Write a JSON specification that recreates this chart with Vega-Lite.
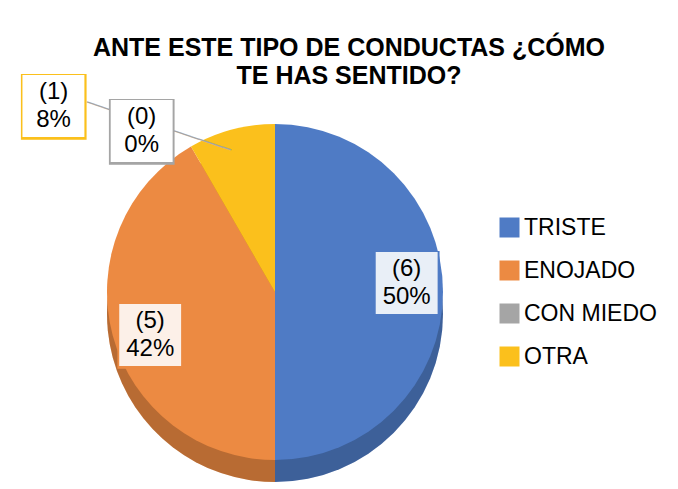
{
  "$schema": "https://vega.github.io/schema/vega-lite/v6.json",
  "autosize": {"type": "none"},
  "width": 550,
  "height": 384,
  "padding": {"left": 0, "top": 100, "right": 128, "bottom": 5},
  "background": "white",
  "config": {"view": {"stroke": null}, "font": "Liberation Sans"},
  "title": {
    "text": ["ANTE ESTE TIPO DE CONDUCTAS ¿CÓMO", "TE HAS SENTIDO?"],
    "anchor": "middle",
    "dx": 74,
    "dy": 47,
    "offset": 14,
    "fontSize": 25,
    "fontWeight": "bold",
    "font": "Liberation Sans",
    "lineHeight": 28,
    "color": "#000000"
  },
  "data": {
    "values": [
      {"categoria": "TRISTE", "n": 6, "orden": 1, "etiqueta": "(6)\n50%"},
      {"categoria": "ENOJADO", "n": 5, "orden": 2, "etiqueta": "(5)\n42%"},
      {"categoria": "CON MIEDO", "n": 0, "orden": 3, "etiqueta": "(0)\n0%"},
      {"categoria": "OTRA", "n": 1, "orden": 4, "etiqueta": "(1)\n8%"}
    ]
  },
  "encoding": {
    "theta": {"field": "n", "type": "quantitative", "stack": true},
    "order": {"field": "orden", "type": "quantitative"}
  },
  "layer": [
    {
      "mark": {"type": "arc", "outerRadius": 168, "yOffset": 22},
      "encoding": {
        "color": {
          "field": "categoria", "type": "nominal",
          "scale": {"domain": ["TRISTE", "ENOJADO", "CON MIEDO", "OTRA"], "range": ["#4F7BC5", "#EC8A42", "#A5A5A5", "#FBC01C"]},
          "legend": {"orient": "none", "legendX": 498, "legendY": 116, "title": null, "symbolType": "square", "symbolSize": 400, "symbolStrokeWidth": 0, "symbolOpacity": 1, "labelFont": "Liberation Sans", "labelFontSize": 23, "labelColor": "#000000", "rowPadding": 19, "labelOffset": 3}
        }
      }
    },
    {
      "mark": {"type": "arc", "outerRadius": 168, "yOffset": 22, "color": "#000000", "opacity": 0.22},
      "encoding": {"detail": {"field": "categoria", "type": "nominal"}}
    },
    {
      "mark": {"type": "arc", "outerRadius": 168},
      "encoding": {"color": {"field": "categoria", "type": "nominal"}}
    },
    {
      "mark": {"type": "text", "radius": 132, "thetaOffset": -0.07, "font": "DejaVu Sans", "fontSize": 86, "dy": -3, "align": "center", "baseline": "middle"},
      "encoding": {
        "color": {"field": "categoria", "type": "nominal"},
        "text": {"condition": {"test": "datum.categoria == 'TRISTE' || datum.categoria == 'ENOJADO'", "value": "■"}, "value": ""}
      }
    },
    {
      "mark": {"type": "text", "radius": 132, "thetaOffset": -0.07, "font": "DejaVu Sans", "fontSize": 81, "dy": -3, "align": "center", "baseline": "middle", "color": "#ffffff", "opacity": 0.88},
      "encoding": {
        "text": {"condition": {"test": "datum.categoria == 'TRISTE' || datum.categoria == 'ENOJADO'", "value": "■"}, "value": ""}
      }
    },
    {
      "mark": {"type": "text", "radius": 132, "thetaOffset": -0.07, "font": "Liberation Sans", "fontSize": 24, "lineHeight": 28, "lineBreak": "\n", "dy": -14, "align": "center", "baseline": "middle", "color": "#000000"},
      "encoding": {
        "text": {"condition": {"test": "datum.categoria == 'TRISTE' || datum.categoria == 'ENOJADO'", "field": "etiqueta"}, "value": ""}
      }
    },
    {
      "mark": {"type": "text", "radius": 202, "thetaOffset": -0.351, "angle": 18.4, "font": "DejaVu Sans", "fontSize": 14, "align": "center", "baseline": "middle", "color": "#A5A5A5"},
      "encoding": {
        "text": {"condition": {"test": "datum.categoria == 'OTRA'", "value": "──────────────────"}, "value": ""}
      }
    },
    {
      "mark": {"type": "text", "radius": 289, "thetaOffset": -0.611, "font": "DejaVu Sans", "fontSize": 86, "dy": -3, "align": "center", "baseline": "middle"},
      "encoding": {
        "color": {"field": "categoria", "type": "nominal"},
        "text": {"condition": {"test": "datum.categoria == 'OTRA'", "value": "■"}, "value": ""}
      }
    },
    {
      "mark": {"type": "text", "radius": 289, "thetaOffset": -0.611, "font": "DejaVu Sans", "fontSize": 81, "dy": -3, "align": "center", "baseline": "middle", "color": "#ffffff"},
      "encoding": {
        "text": {"condition": {"test": "datum.categoria == 'OTRA'", "value": "■"}, "value": ""}
      }
    },
    {
      "mark": {"type": "text", "radius": 289, "thetaOffset": -0.611, "font": "Liberation Sans", "fontSize": 24, "lineHeight": 28, "lineBreak": "\n", "dy": -14, "align": "center", "baseline": "middle", "color": "#000000"},
      "encoding": {
        "text": {"condition": {"test": "datum.categoria == 'OTRA'", "field": "etiqueta"}, "value": ""}
      }
    },
    {
      "mark": {"type": "text", "radius": 209, "thetaOffset": -0.168, "font": "DejaVu Sans", "fontSize": 86, "dy": -3, "align": "center", "baseline": "middle"},
      "encoding": {
        "color": {"field": "categoria", "type": "nominal"},
        "text": {"condition": {"test": "datum.categoria == 'CON MIEDO'", "value": "■"}, "value": ""}
      }
    },
    {
      "mark": {"type": "text", "radius": 209, "thetaOffset": -0.168, "font": "DejaVu Sans", "fontSize": 81, "dy": -3, "align": "center", "baseline": "middle", "color": "#ffffff"},
      "encoding": {
        "text": {"condition": {"test": "datum.categoria == 'CON MIEDO'", "value": "■"}, "value": ""}
      }
    },
    {
      "mark": {"type": "text", "radius": 209, "thetaOffset": -0.168, "font": "Liberation Sans", "fontSize": 24, "lineHeight": 28, "lineBreak": "\n", "dy": -14, "align": "center", "baseline": "middle", "color": "#000000"},
      "encoding": {
        "text": {"condition": {"test": "datum.categoria == 'CON MIEDO'", "field": "etiqueta"}, "value": ""}
      }
    }
  ]
}
